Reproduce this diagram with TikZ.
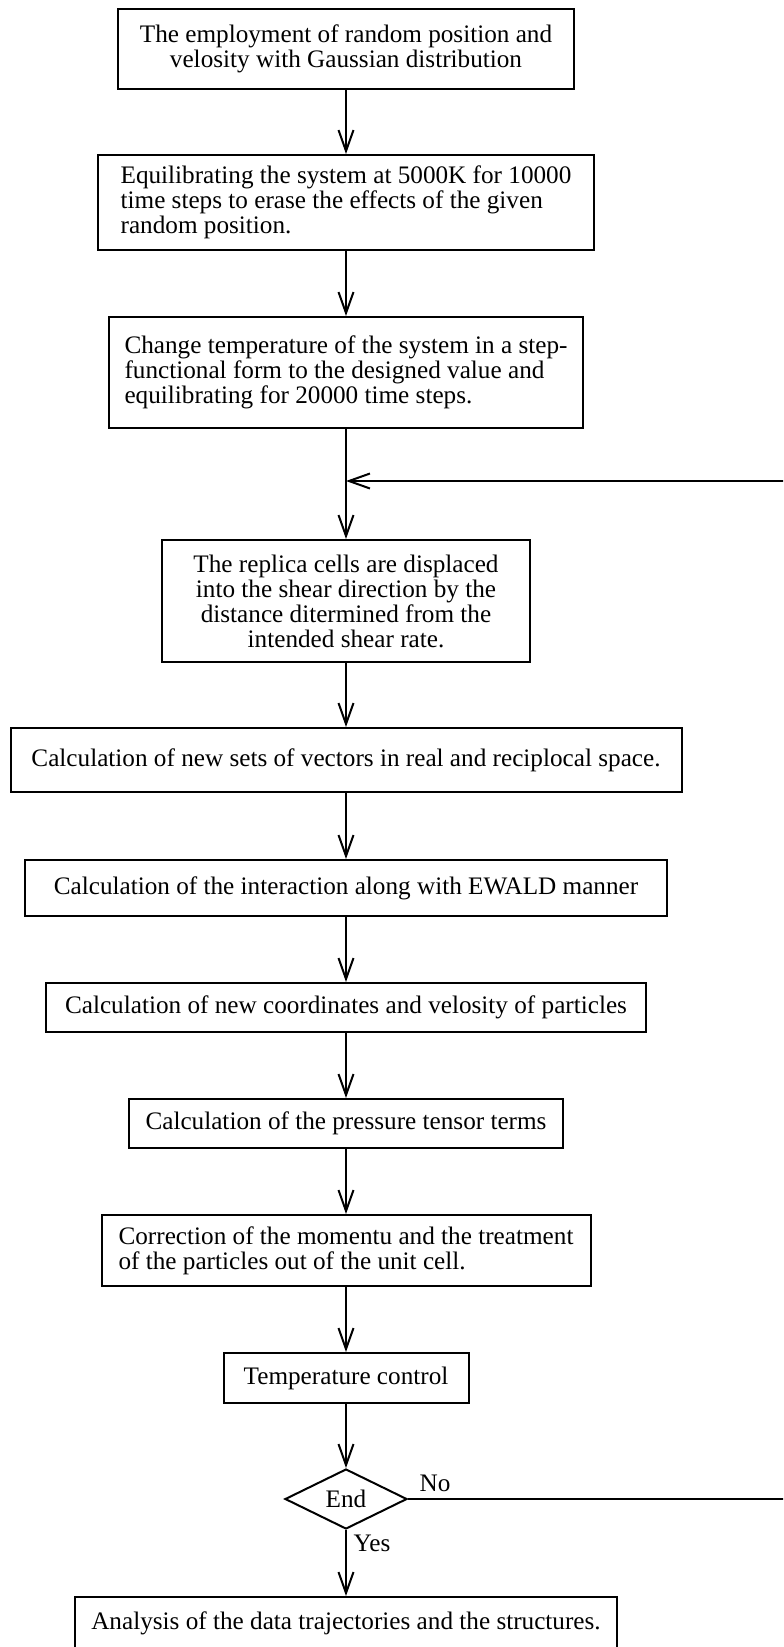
\documentclass[tikz,border=0pt]{standalone}
\usepackage{fontspec}
\setmainfont{Liberation Serif}
\usetikzlibrary{shapes.geometric,arrows.meta}

\begin{document}
\begin{tikzpicture}
[x=0.5pt, y=-0.5pt,
 every node/.style={font=\fontsize{12.6}{12.5}\selectfont},
 stepbox/.style={draw, rectangle, line width=1pt, inner sep=2pt, align=center},
 test/.style={draw, diamond, aspect=2, line width=1pt, inner sep=0pt,
              minimum width=61pt, minimum height=30pt},
 flow/.style={line width=1pt, -{Straight Barb[length=10.5pt,width=7.5pt]}}]
\useasboundingbox (0,0) rectangle (783,1647);
\clip (0,0) rectangle (783,1647);

\node[stepbox, minimum width=228.25pt, minimum height=40pt] (init) at (346,49)
  {The employment of random position and\\velosity with Gaussian distribution};
\node[stepbox, align=left, minimum width=248.25pt, minimum height=47.5pt] (equil) at (346,202.5)
  {Equilibrating the system at 5000K for 10000\\time steps to erase the effects of the given\\random position.};
\node[stepbox, align=left, minimum width=237.25pt, minimum height=55.5pt] (quench) at (346,372.5)
  {Change temperature of the system in a step-\\functional form to the designed value and\\equilibrating for 20000 time steps.};
\node[stepbox, minimum width=184.25pt, minimum height=61pt] (shear) at (346,601)
  {The replica cells are displaced\\into the shear direction by the\\distance ditermined from the\\intended shear rate.};
\node[stepbox, minimum width=335.5pt, minimum height=32pt] (vectors) at (346,760)
  {Calculation of new sets of vectors in real and reciplocal space.};
\node[stepbox, minimum width=321.25pt, minimum height=28pt] (ewald) at (346,888)
  {Calculation of the interaction along with EWALD manner};
\node[stepbox, minimum width=300.25pt, minimum height=24.5pt] (move) at (346,1007.5)
  {Calculation of new coordinates and velosity of particles};
\node[stepbox, minimum width=217.25pt, minimum height=24.5pt] (press) at (346,1123.5)
  {Calculation of the pressure tensor terms};
\node[stepbox, align=left, minimum width=244.5pt, minimum height=35.5pt] (momentum) at (346,1250.5)
  {Correction of the momentu and the treatment\\of the particles out of the unit cell.};
\node[stepbox, minimum width=122.5pt, minimum height=25pt] (thermo) at (346,1378)
  {Temperature control};
\node[test] (done) at (346,1499) {End};
\node[stepbox, minimum width=271.25pt, minimum height=26pt] (result) at (346,1623)
  {Analysis of the data trajectories and the structures.};

\coordinate (join) at (346,481); % loop re-enters here
\coordinate (back) at (800,1499);

\draw[flow] (init) -- (equil);
\draw[flow] (equil) -- (quench);
\draw[flow] (quench) -- (shear);
\draw[flow] (shear) -- (vectors);
\draw[flow] (vectors) -- (ewald);
\draw[flow] (ewald) -- (move);
\draw[flow] (move) -- (press);
\draw[flow] (press) -- (momentum);
\draw[flow] (momentum) -- (thermo);
\draw[flow] (thermo) -- (done);
\draw[flow] (done) -- node[right, pos=.2] {Yes} (result);
\draw[flow] (done.east) -- node[pos=0, anchor=south west, xshift=2pt] {No} (back) |- (join);
\end{tikzpicture}
\end{document}
